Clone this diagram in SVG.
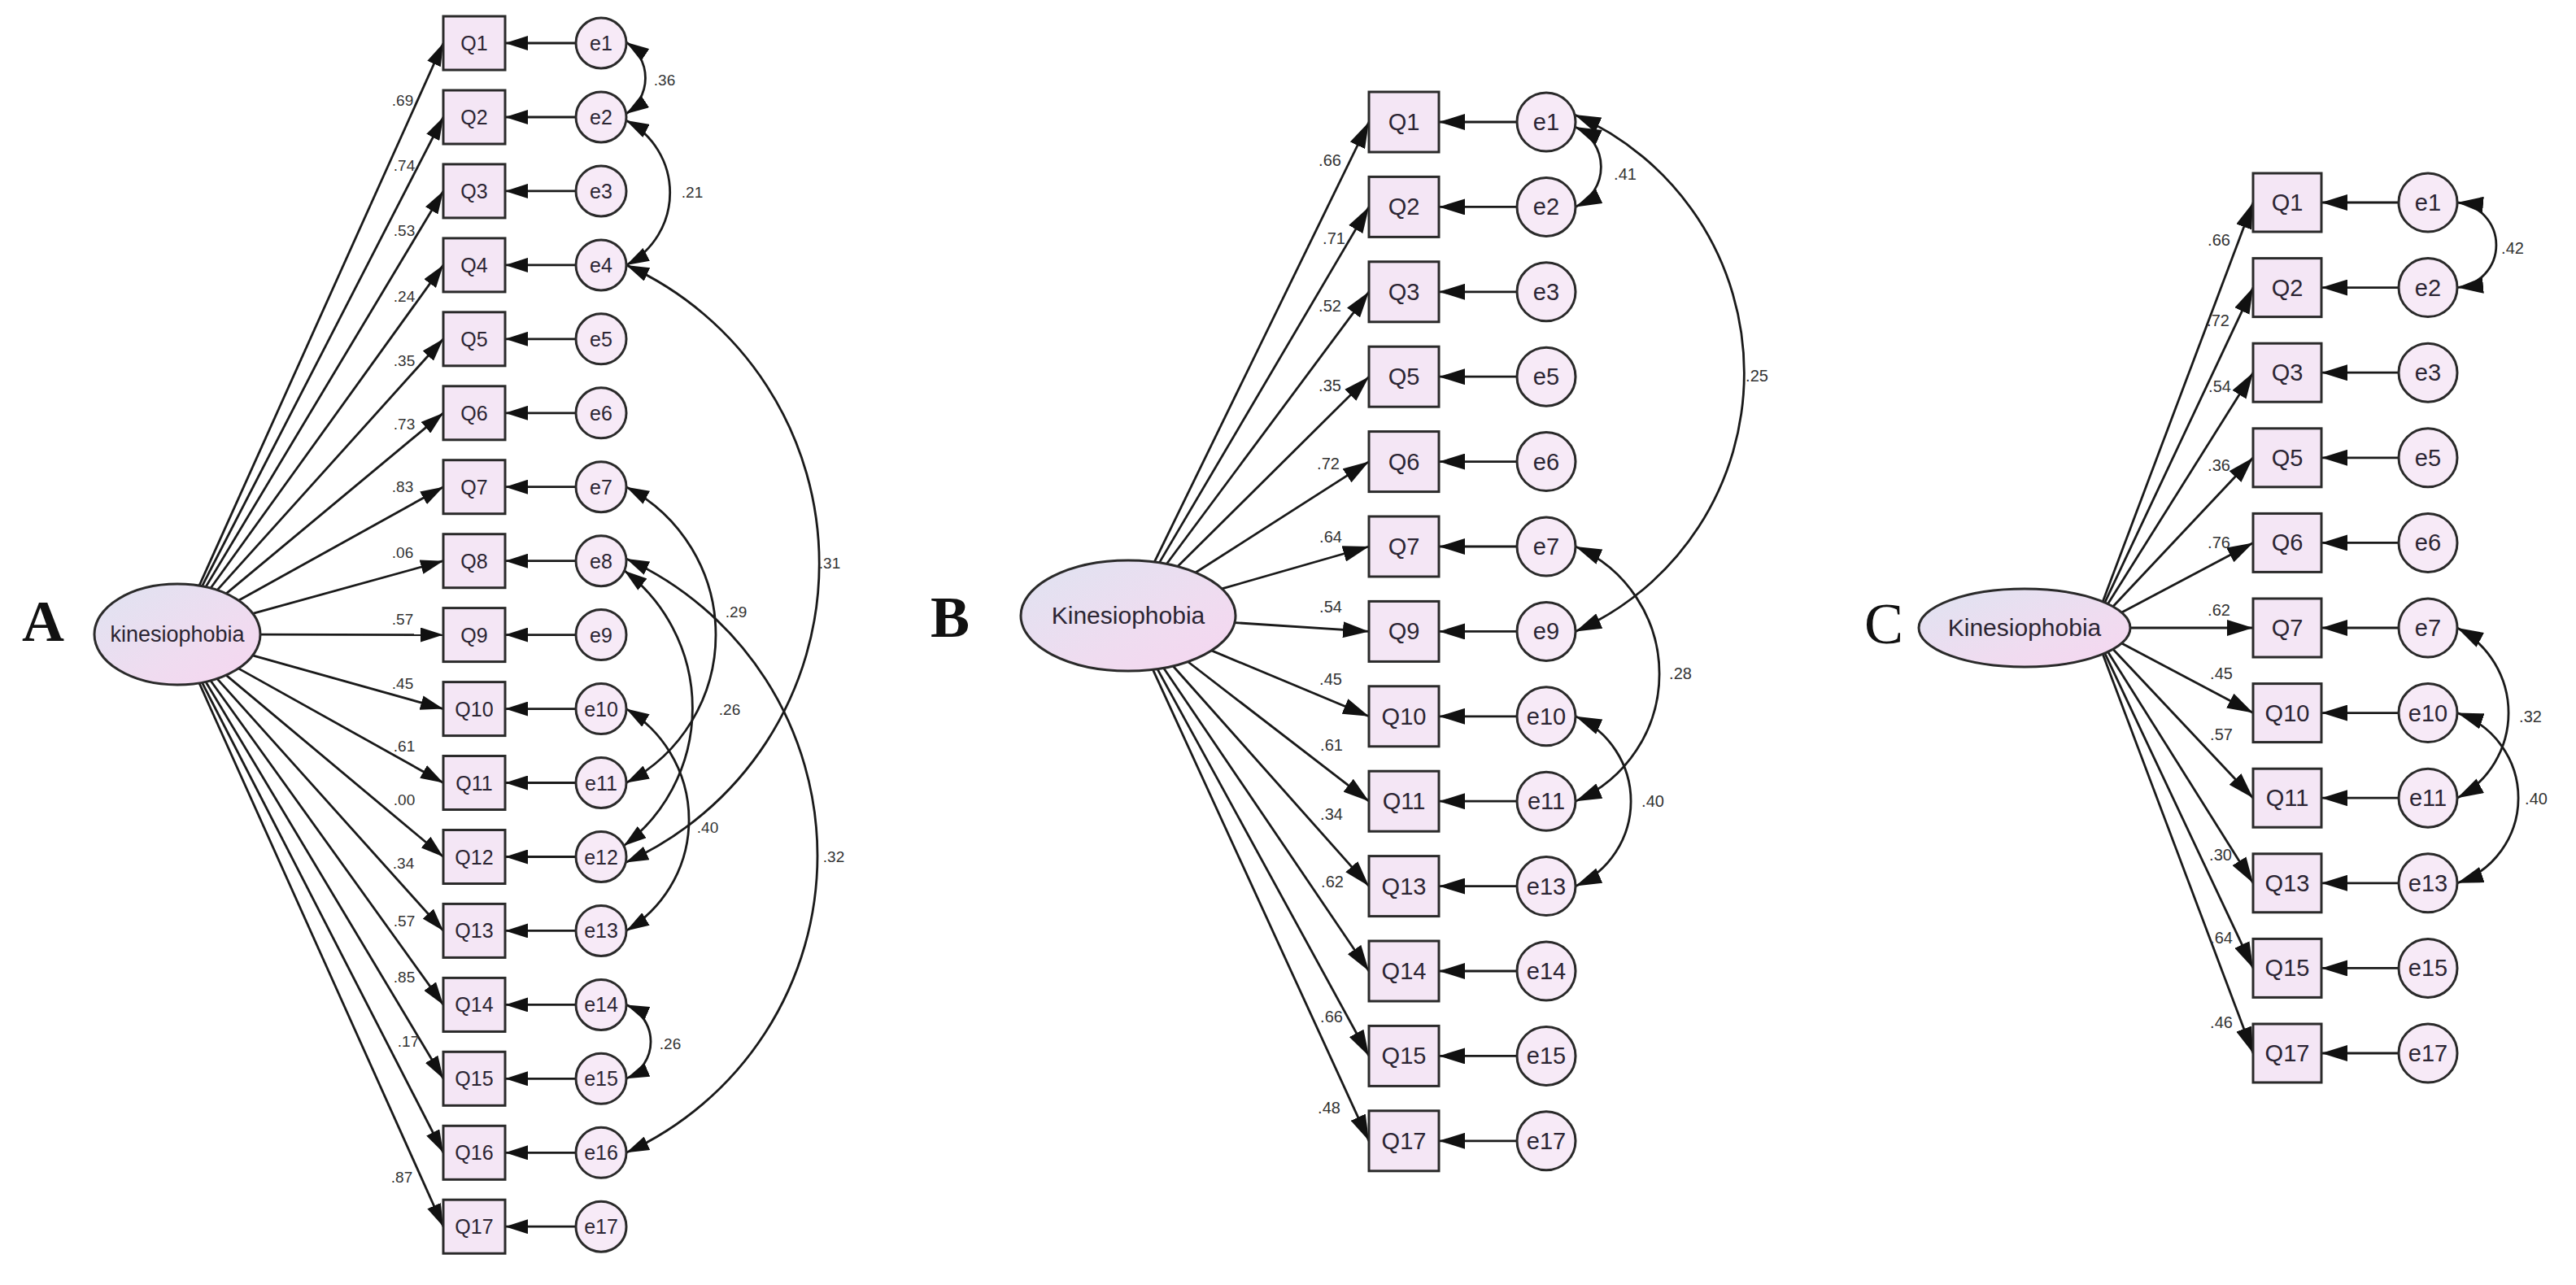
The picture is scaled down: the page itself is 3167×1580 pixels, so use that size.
<svg xmlns="http://www.w3.org/2000/svg" width="3167" height="1580" viewBox="0 0 3167 1580">
<defs>
<style>
.bg{fill:#ffffff}
.box{fill:#f4e6f5;stroke:#2a2a2a;stroke-width:3}
.err{fill:#f7eaf7;stroke:#2a2a2a;stroke-width:3}
.lat{fill:url(#lg);stroke:#2a2a2a;stroke-width:3}
.ln{fill:none;stroke:#1a1a1a;stroke-width:2.8}
.a{marker-end:url(#ahA)}
.b{marker-end:url(#ahB)}
.ca{marker-start:url(#ahA);marker-end:url(#ahA)}
.cb{marker-start:url(#ahB);marker-end:url(#ahB)}
.t{font-family:"Liberation Sans",Arial,sans-serif;fill:#2b2533;text-anchor:middle}
.tA{font-size:25px}
.tB{font-size:29px}
.num{font-family:"Liberation Sans",Arial,sans-serif;fill:#333;text-anchor:middle;font-size:19px}
.numB{font-size:20px}
.big{font-family:"Liberation Serif","Times New Roman",serif;fill:#111;text-anchor:middle;font-size:72px}
</style>
<linearGradient id="lg" x1="0" y1="0" x2="1" y2="1">
<stop offset="0" stop-color="#dfe3f1"/>
<stop offset="0.6" stop-color="#efdcf0"/>
<stop offset="1" stop-color="#f6d6f0"/>
</linearGradient>
<marker id="ahA" viewBox="0 0 28 18" refX="28" refY="9" markerWidth="28" markerHeight="18" markerUnits="userSpaceOnUse" orient="auto-start-reverse">
<path d="M0,0 L28,9 L0,18 z" fill="#111"/>
</marker>
<marker id="ahB" viewBox="0 0 32 20" refX="32" refY="10" markerWidth="32" markerHeight="20" markerUnits="userSpaceOnUse" orient="auto-start-reverse">
<path d="M0,0 L32,10 L0,20 z" fill="#111"/>
</marker>
</defs>
<rect class="bg" x="0" y="0" width="3167" height="1580"/>

<!-- Panel letters -->
<text class="big" x="53" y="788" font-weight="bold">A</text>
<text class="big" x="1168" y="783" font-weight="bold">B</text>
<text class="big" x="2316" y="791">C</text>

<!-- ================= PANEL A ================= -->
<g id="A_connectors">
<path class="ln a" d="M244.9,720.2 L545,53"/>
<path class="ln a" d="M248.4,720.8 L545,144"/>
<path class="ln a" d="M252.9,721.8 L545,234.9"/>
<path class="ln a" d="M258.9,723.2 L545,325.9"/>
<path class="ln a" d="M267,725.6 L545,416.8"/>
<path class="ln a" d="M278.1,729.9 L545,507.8"/>
<path class="ln a" d="M293.4,738.2 L545,598.7"/>
<path class="ln a" d="M310.9,754.3 L545,689.7"/>
<path class="ln a" d="M320,780.2 L545,780.6"/>
<path class="ln a" d="M310.6,805.9 L545,871.6"/>
<path class="ln a" d="M293.1,821.9 L545,962.5"/>
<path class="ln a" d="M278,830.1 L545,1053.5"/>
<path class="ln a" d="M266.8,834.4 L545,1144.4"/>
<path class="ln a" d="M258.8,836.8 L545,1235.4"/>
<path class="ln a" d="M252.9,838.3 L545,1326.3"/>
<path class="ln a" d="M248.4,839.2 L545,1417.3"/>
<path class="ln a" d="M244.9,839.8 L545,1508.2"/>

<path class="ln a" d="M708,53 L621,53"/>
<path class="ln a" d="M708,144 L621,144"/>
<path class="ln a" d="M708,234.9 L621,234.9"/>
<path class="ln a" d="M708,325.9 L621,325.9"/>
<path class="ln a" d="M708,416.8 L621,416.8"/>
<path class="ln a" d="M708,507.8 L621,507.8"/>
<path class="ln a" d="M708,598.7 L621,598.7"/>
<path class="ln a" d="M708,689.7 L621,689.7"/>
<path class="ln a" d="M708,780.6 L621,780.6"/>
<path class="ln a" d="M708,871.6 L621,871.6"/>
<path class="ln a" d="M708,962.5 L621,962.5"/>
<path class="ln a" d="M708,1053.5 L621,1053.5"/>
<path class="ln a" d="M708,1144.4 L621,1144.4"/>
<path class="ln a" d="M708,1235.4 L621,1235.4"/>
<path class="ln a" d="M708,1326.3 L621,1326.3"/>
<path class="ln a" d="M708,1417.3 L621,1417.3"/>
<path class="ln a" d="M708,1508.2 L621,1508.2"/>

<path class="ln ca" d="M770,52 A52.8,52.8 0 0 1 769.7,140"/>
<path class="ln ca" d="M769.7,148 A100.4,100.4 0 0 1 770,325.9"/>
<path class="ln ca" d="M770,325.9 A402.7,402.7 0 0 1 769.2,1060.5"/>
<path class="ln ca" d="M770,598.7 A205.4,205.4 0 0 1 770,962.5"/>
<path class="ln ca" d="M767.6,701.7 A212.1,212.1 0 0 1 766.9,1040"/>
<path class="ln ca" d="M770,687 A401.2,401.2 0 0 1 770,1417.3"/>
<path class="ln ca" d="M770,871.6 A159.3,159.3 0 0 1 770,1144.4"/>
<path class="ln ca" d="M770,1235.4 A49.4,49.4 0 0 1 770,1326.3"/>

<text class="num" x="495" y="130">.69</text>
<text class="num" x="497" y="210">.74</text>
<text class="num" x="497" y="290">.53</text>
<text class="num" x="497" y="371">.24</text>
<text class="num" x="497" y="450">.35</text>
<text class="num" x="497" y="528">.73</text>
<text class="num" x="495" y="605">.83</text>
<text class="num" x="495" y="686">.06</text>
<text class="num" x="495" y="768">.57</text>
<text class="num" x="495" y="847">.45</text>
<text class="num" x="497" y="924">.61</text>
<text class="num" x="497" y="990">.00</text>
<text class="num" x="496" y="1068">.34</text>
<text class="num" x="497" y="1139">.57</text>
<text class="num" x="497" y="1208">.85</text>
<text class="num" x="502" y="1287">.17</text>
<text class="num" x="494" y="1454">.87</text>

<text class="num" x="817" y="105">.36</text>
<text class="num" x="851" y="243">.21</text>
<text class="num" x="1020" y="699">.31</text>
<text class="num" x="905" y="759">.29</text>
<text class="num" x="897" y="879">.26</text>
<text class="num" x="1025" y="1060">.32</text>
<text class="num" x="870" y="1024">.40</text>
<text class="num" x="824" y="1290">.26</text>
</g>

<g id="A_latent">
<ellipse class="lat" cx="218" cy="780" rx="102" ry="62"/>
<text class="t" x="218" y="789" font-size="27">kinesiophobia</text>
</g>

<g id="A_Q1"><rect class="box" x="545" y="20" width="76" height="66"/><text class="t tA" x="583" y="62">Q1</text></g>
<g id="A_Q2"><rect class="box" x="545" y="111" width="76" height="66"/><text class="t tA" x="583" y="153">Q2</text></g>
<g id="A_Q3"><rect class="box" x="545" y="201.9" width="76" height="66"/><text class="t tA" x="583" y="243.9">Q3</text></g>
<g id="A_Q4"><rect class="box" x="545" y="292.9" width="76" height="66"/><text class="t tA" x="583" y="334.9">Q4</text></g>
<g id="A_Q5"><rect class="box" x="545" y="383.8" width="76" height="66"/><text class="t tA" x="583" y="425.8">Q5</text></g>
<g id="A_Q6"><rect class="box" x="545" y="474.8" width="76" height="66"/><text class="t tA" x="583" y="516.8">Q6</text></g>
<g id="A_Q7"><rect class="box" x="545" y="565.7" width="76" height="66"/><text class="t tA" x="583" y="607.7">Q7</text></g>
<g id="A_Q8"><rect class="box" x="545" y="656.7" width="76" height="66"/><text class="t tA" x="583" y="698.7">Q8</text></g>
<g id="A_Q9"><rect class="box" x="545" y="747.6" width="76" height="66"/><text class="t tA" x="583" y="789.6">Q9</text></g>
<g id="A_Q10"><rect class="box" x="545" y="838.6" width="76" height="66"/><text class="t tA" x="583" y="880.6">Q10</text></g>
<g id="A_Q11"><rect class="box" x="545" y="929.5" width="76" height="66"/><text class="t tA" x="583" y="971.5">Q11</text></g>
<g id="A_Q12"><rect class="box" x="545" y="1020.5" width="76" height="66"/><text class="t tA" x="583" y="1062.5">Q12</text></g>
<g id="A_Q13"><rect class="box" x="545" y="1111.4" width="76" height="66"/><text class="t tA" x="583" y="1153.4">Q13</text></g>
<g id="A_Q14"><rect class="box" x="545" y="1202.4" width="76" height="66"/><text class="t tA" x="583" y="1244.4">Q14</text></g>
<g id="A_Q15"><rect class="box" x="545" y="1293.3" width="76" height="66"/><text class="t tA" x="583" y="1335.3">Q15</text></g>
<g id="A_Q16"><rect class="box" x="545" y="1384.3" width="76" height="66"/><text class="t tA" x="583" y="1426.3">Q16</text></g>
<g id="A_Q17"><rect class="box" x="545" y="1475.2" width="76" height="66"/><text class="t tA" x="583" y="1517.2">Q17</text></g>

<g id="A_e1"><circle class="err" cx="739" cy="53" r="31"/><text class="t tA" x="739" y="62">e1</text></g>
<g id="A_e2"><circle class="err" cx="739" cy="144" r="31"/><text class="t tA" x="739" y="153">e2</text></g>
<g id="A_e3"><circle class="err" cx="739" cy="234.9" r="31"/><text class="t tA" x="739" y="243.9">e3</text></g>
<g id="A_e4"><circle class="err" cx="739" cy="325.9" r="31"/><text class="t tA" x="739" y="334.9">e4</text></g>
<g id="A_e5"><circle class="err" cx="739" cy="416.8" r="31"/><text class="t tA" x="739" y="425.8">e5</text></g>
<g id="A_e6"><circle class="err" cx="739" cy="507.8" r="31"/><text class="t tA" x="739" y="516.8">e6</text></g>
<g id="A_e7"><circle class="err" cx="739" cy="598.7" r="31"/><text class="t tA" x="739" y="607.7">e7</text></g>
<g id="A_e8"><circle class="err" cx="739" cy="689.7" r="31"/><text class="t tA" x="739" y="698.7">e8</text></g>
<g id="A_e9"><circle class="err" cx="739" cy="780.6" r="31"/><text class="t tA" x="739" y="789.6">e9</text></g>
<g id="A_e10"><circle class="err" cx="739" cy="871.6" r="31"/><text class="t tA" x="739" y="880.6">e10</text></g>
<g id="A_e11"><circle class="err" cx="739" cy="962.5" r="31"/><text class="t tA" x="739" y="971.5">e11</text></g>
<g id="A_e12"><circle class="err" cx="739" cy="1053.5" r="31"/><text class="t tA" x="739" y="1062.5">e12</text></g>
<g id="A_e13"><circle class="err" cx="739" cy="1144.4" r="31"/><text class="t tA" x="739" y="1153.4">e13</text></g>
<g id="A_e14"><circle class="err" cx="739" cy="1235.4" r="31"/><text class="t tA" x="739" y="1244.4">e14</text></g>
<g id="A_e15"><circle class="err" cx="739" cy="1326.3" r="31"/><text class="t tA" x="739" y="1335.3">e15</text></g>
<g id="A_e16"><circle class="err" cx="739" cy="1417.3" r="31"/><text class="t tA" x="739" y="1426.3">e16</text></g>
<g id="A_e17"><circle class="err" cx="739" cy="1508.2" r="31"/><text class="t tA" x="739" y="1517.2">e17</text></g>

<!-- ================= PANEL B ================= -->
<g id="B_connectors">
<path class="ln b" d="M1419.2,691.1 L1683,150"/>
<path class="ln b" d="M1425.3,691.9 L1683,254.4"/>
<path class="ln b" d="M1434.2,693.5 L1683,358.8"/>
<path class="ln b" d="M1447.8,696.6 L1683,463.2"/>
<path class="ln b" d="M1469.8,704 L1683,567.6"/>
<path class="ln b" d="M1502.3,723.9 L1683,672"/>
<path class="ln b" d="M1518,765.6 L1683,776.4"/>
<path class="ln b" d="M1489.5,799.9 L1683,880.8"/>
<path class="ln b" d="M1460.3,813.5 L1683,985.2"/>
<path class="ln b" d="M1442,818.8 L1683,1089.6"/>
<path class="ln b" d="M1430.5,821.2 L1683,1194"/>
<path class="ln b" d="M1422.8,822.4 L1683,1298.4"/>
<path class="ln b" d="M1417.3,823.2 L1683,1402.8"/>

<path class="ln b" d="M1865,150 L1769,150"/>
<path class="ln b" d="M1865,254.4 L1769,254.4"/>
<path class="ln b" d="M1865,358.8 L1769,358.8"/>
<path class="ln b" d="M1865,463.2 L1769,463.2"/>
<path class="ln b" d="M1865,567.6 L1769,567.6"/>
<path class="ln b" d="M1865,672 L1769,672"/>
<path class="ln b" d="M1865,776.4 L1769,776.4"/>
<path class="ln b" d="M1865,880.8 L1769,880.8"/>
<path class="ln b" d="M1865,985.2 L1769,985.2"/>
<path class="ln b" d="M1865,1089.6 L1769,1089.6"/>
<path class="ln b" d="M1865,1194 L1769,1194"/>
<path class="ln b" d="M1865,1298.4 L1769,1298.4"/>
<path class="ln b" d="M1865,1402.8 L1769,1402.8"/>

<path class="ln cb" d="M1936.5,156 A54.1,54.1 0 0 1 1937,254.4"/>
<path class="ln cb" d="M1935.9,141 A346.7,346.7 0 0 1 1937,776.4"/>
<path class="ln cb" d="M1937,672 A170.5,170.5 0 0 1 1937,985.2"/>
<path class="ln cb" d="M1937,880.8 A114.1,114.1 0 0 1 1937,1089.6"/>

<text class="num numB" x="1635" y="204">.66</text>
<text class="num numB" x="1640" y="300">.71</text>
<text class="num numB" x="1635" y="383">.52</text>
<text class="num numB" x="1635" y="481">.35</text>
<text class="num numB" x="1633" y="577">.72</text>
<text class="num numB" x="1636" y="667">.64</text>
<text class="num numB" x="1636" y="753">.54</text>
<text class="num numB" x="1636" y="842">.45</text>
<text class="num numB" x="1637" y="923">.61</text>
<text class="num numB" x="1637" y="1008">.34</text>
<text class="num numB" x="1638" y="1091">.62</text>
<text class="num numB" x="1637" y="1257">.66</text>
<text class="num numB" x="1634" y="1369">.48</text>

<text class="num numB" x="1998" y="221">.41</text>
<text class="num numB" x="2160" y="469">.25</text>
<text class="num numB" x="2066" y="835">.28</text>
<text class="num numB" x="2032" y="992">.40</text>
</g>

<g id="B_latent">
<ellipse class="lat" cx="1387" cy="757" rx="132" ry="68"/>
<text class="t" x="1387" y="767" font-size="30">Kinesiophobia</text>
</g>

<g id="B_Q1"><rect class="box" x="1683" y="113" width="86" height="74"/><text class="t tB" x="1726" y="160">Q1</text></g>
<g id="B_Q2"><rect class="box" x="1683" y="217.4" width="86" height="74"/><text class="t tB" x="1726" y="264.4">Q2</text></g>
<g id="B_Q3"><rect class="box" x="1683" y="321.8" width="86" height="74"/><text class="t tB" x="1726" y="368.8">Q3</text></g>
<g id="B_Q5"><rect class="box" x="1683" y="426.2" width="86" height="74"/><text class="t tB" x="1726" y="473.2">Q5</text></g>
<g id="B_Q6"><rect class="box" x="1683" y="530.6" width="86" height="74"/><text class="t tB" x="1726" y="577.6">Q6</text></g>
<g id="B_Q7"><rect class="box" x="1683" y="635" width="86" height="74"/><text class="t tB" x="1726" y="682">Q7</text></g>
<g id="B_Q9"><rect class="box" x="1683" y="739.4" width="86" height="74"/><text class="t tB" x="1726" y="786.4">Q9</text></g>
<g id="B_Q10"><rect class="box" x="1683" y="843.8" width="86" height="74"/><text class="t tB" x="1726" y="890.8">Q10</text></g>
<g id="B_Q11"><rect class="box" x="1683" y="948.2" width="86" height="74"/><text class="t tB" x="1726" y="995.2">Q11</text></g>
<g id="B_Q13"><rect class="box" x="1683" y="1052.6" width="86" height="74"/><text class="t tB" x="1726" y="1099.6">Q13</text></g>
<g id="B_Q14"><rect class="box" x="1683" y="1157" width="86" height="74"/><text class="t tB" x="1726" y="1204">Q14</text></g>
<g id="B_Q15"><rect class="box" x="1683" y="1261.4" width="86" height="74"/><text class="t tB" x="1726" y="1308.4">Q15</text></g>
<g id="B_Q17"><rect class="box" x="1683" y="1365.8" width="86" height="74"/><text class="t tB" x="1726" y="1412.8">Q17</text></g>

<g id="B_e1"><circle class="err" cx="1901" cy="150" r="36"/><text class="t tB" x="1901" y="160">e1</text></g>
<g id="B_e2"><circle class="err" cx="1901" cy="254.4" r="36"/><text class="t tB" x="1901" y="264.4">e2</text></g>
<g id="B_e3"><circle class="err" cx="1901" cy="358.8" r="36"/><text class="t tB" x="1901" y="368.8">e3</text></g>
<g id="B_e5"><circle class="err" cx="1901" cy="463.2" r="36"/><text class="t tB" x="1901" y="473.2">e5</text></g>
<g id="B_e6"><circle class="err" cx="1901" cy="567.6" r="36"/><text class="t tB" x="1901" y="577.6">e6</text></g>
<g id="B_e7"><circle class="err" cx="1901" cy="672" r="36"/><text class="t tB" x="1901" y="682">e7</text></g>
<g id="B_e9"><circle class="err" cx="1901" cy="776.4" r="36"/><text class="t tB" x="1901" y="786.4">e9</text></g>
<g id="B_e10"><circle class="err" cx="1901" cy="880.8" r="36"/><text class="t tB" x="1901" y="890.8">e10</text></g>
<g id="B_e11"><circle class="err" cx="1901" cy="985.2" r="36"/><text class="t tB" x="1901" y="995.2">e11</text></g>
<g id="B_e13"><circle class="err" cx="1901" cy="1089.6" r="36"/><text class="t tB" x="1901" y="1099.6">e13</text></g>
<g id="B_e14"><circle class="err" cx="1901" cy="1194" r="36"/><text class="t tB" x="1901" y="1204">e14</text></g>
<g id="B_e15"><circle class="err" cx="1901" cy="1298.4" r="36"/><text class="t tB" x="1901" y="1308.4">e15</text></g>
<g id="B_e17"><circle class="err" cx="1901" cy="1402.8" r="36"/><text class="t tB" x="1901" y="1412.8">e17</text></g>

<!-- ================= PANEL C ================= -->
<g id="C_connectors">
<path class="ln b" d="M2585.2,739.7 L2770,249"/>
<path class="ln b" d="M2587.7,740.8 L2770,353.6"/>
<path class="ln b" d="M2591.5,742.5 L2770,458.2"/>
<path class="ln b" d="M2597.8,745.7 L2770,562.8"/>
<path class="ln b" d="M2608.5,753.1 L2770,667.4"/>
<path class="ln b" d="M2619,772 L2770,772"/>
<path class="ln b" d="M2608.5,790.9 L2770,876.6"/>
<path class="ln b" d="M2597.8,798.3 L2770,981.2"/>
<path class="ln b" d="M2591.5,801.5 L2770,1085.8"/>
<path class="ln b" d="M2587.7,803.2 L2770,1190.4"/>
<path class="ln b" d="M2585.2,804.3 L2770,1295"/>

<path class="ln b" d="M2949,249 L2854,249"/>
<path class="ln b" d="M2949,353.6 L2854,353.6"/>
<path class="ln b" d="M2949,458.2 L2854,458.2"/>
<path class="ln b" d="M2949,562.8 L2854,562.8"/>
<path class="ln b" d="M2949,667.4 L2854,667.4"/>
<path class="ln b" d="M2949,772 L2854,772"/>
<path class="ln b" d="M2949,876.6 L2854,876.6"/>
<path class="ln b" d="M2949,981.2 L2854,981.2"/>
<path class="ln b" d="M2949,1085.8 L2854,1085.8"/>
<path class="ln b" d="M2949,1190.4 L2854,1190.4"/>
<path class="ln b" d="M2949,1295 L2854,1295"/>

<path class="ln cb" d="M3021,249 A52.5,52.5 0 0 1 3021,353.6"/>
<path class="ln cb" d="M3021,772 A118.3,118.3 0 0 1 3021,981.2"/>
<path class="ln cb" d="M3021,876.6 A110.4,110.4 0 0 1 3021,1085.8"/>

<text class="num numB" x="2728" y="302">.66</text>
<text class="num numB" x="2727" y="401">.72</text>
<text class="num numB" x="2729" y="482">.54</text>
<text class="num numB" x="2728" y="579">.36</text>
<text class="num numB" x="2728" y="674">.76</text>
<text class="num numB" x="2728" y="757">.62</text>
<text class="num numB" x="2731" y="835">.45</text>
<text class="num numB" x="2731" y="910">.57</text>
<text class="num numB" x="2730" y="1058">.30</text>
<text class="num numB" x="2731" y="1160">.64</text>
<text class="num numB" x="2731" y="1264">.46</text>

<text class="num numB" x="3089" y="312">.42</text>
<text class="num numB" x="3111" y="888">.32</text>
<text class="num numB" x="3118" y="989">.40</text>
</g>

<g id="C_latent">
<ellipse class="lat" cx="2489" cy="772" rx="130" ry="48"/>
<text class="t" x="2489" y="782" font-size="30">Kinesiophobia</text>
</g>

<g id="C_Q1"><rect class="box" x="2770" y="213" width="84" height="72"/><text class="t tB" x="2812" y="259">Q1</text></g>
<g id="C_Q2"><rect class="box" x="2770" y="317.6" width="84" height="72"/><text class="t tB" x="2812" y="363.6">Q2</text></g>
<g id="C_Q3"><rect class="box" x="2770" y="422.2" width="84" height="72"/><text class="t tB" x="2812" y="468.2">Q3</text></g>
<g id="C_Q5"><rect class="box" x="2770" y="526.8" width="84" height="72"/><text class="t tB" x="2812" y="572.8">Q5</text></g>
<g id="C_Q6"><rect class="box" x="2770" y="631.4" width="84" height="72"/><text class="t tB" x="2812" y="677.4">Q6</text></g>
<g id="C_Q7"><rect class="box" x="2770" y="736" width="84" height="72"/><text class="t tB" x="2812" y="782">Q7</text></g>
<g id="C_Q10"><rect class="box" x="2770" y="840.6" width="84" height="72"/><text class="t tB" x="2812" y="886.6">Q10</text></g>
<g id="C_Q11"><rect class="box" x="2770" y="945.2" width="84" height="72"/><text class="t tB" x="2812" y="991.2">Q11</text></g>
<g id="C_Q13"><rect class="box" x="2770" y="1049.8" width="84" height="72"/><text class="t tB" x="2812" y="1095.8">Q13</text></g>
<g id="C_Q15"><rect class="box" x="2770" y="1154.4" width="84" height="72"/><text class="t tB" x="2812" y="1200.4">Q15</text></g>
<g id="C_Q17"><rect class="box" x="2770" y="1259" width="84" height="72"/><text class="t tB" x="2812" y="1305">Q17</text></g>

<g id="C_e1"><circle class="err" cx="2985" cy="249" r="36"/><text class="t tB" x="2985" y="259">e1</text></g>
<g id="C_e2"><circle class="err" cx="2985" cy="353.6" r="36"/><text class="t tB" x="2985" y="363.6">e2</text></g>
<g id="C_e3"><circle class="err" cx="2985" cy="458.2" r="36"/><text class="t tB" x="2985" y="468.2">e3</text></g>
<g id="C_e5"><circle class="err" cx="2985" cy="562.8" r="36"/><text class="t tB" x="2985" y="572.8">e5</text></g>
<g id="C_e6"><circle class="err" cx="2985" cy="667.4" r="36"/><text class="t tB" x="2985" y="677.4">e6</text></g>
<g id="C_e7"><circle class="err" cx="2985" cy="772" r="36"/><text class="t tB" x="2985" y="782">e7</text></g>
<g id="C_e10"><circle class="err" cx="2985" cy="876.6" r="36"/><text class="t tB" x="2985" y="886.6">e10</text></g>
<g id="C_e11"><circle class="err" cx="2985" cy="981.2" r="36"/><text class="t tB" x="2985" y="991.2">e11</text></g>
<g id="C_e13"><circle class="err" cx="2985" cy="1085.8" r="36"/><text class="t tB" x="2985" y="1095.8">e13</text></g>
<g id="C_e15"><circle class="err" cx="2985" cy="1190.4" r="36"/><text class="t tB" x="2985" y="1200.4">e15</text></g>
<g id="C_e17"><circle class="err" cx="2985" cy="1295" r="36"/><text class="t tB" x="2985" y="1305">e17</text></g>
</svg>
